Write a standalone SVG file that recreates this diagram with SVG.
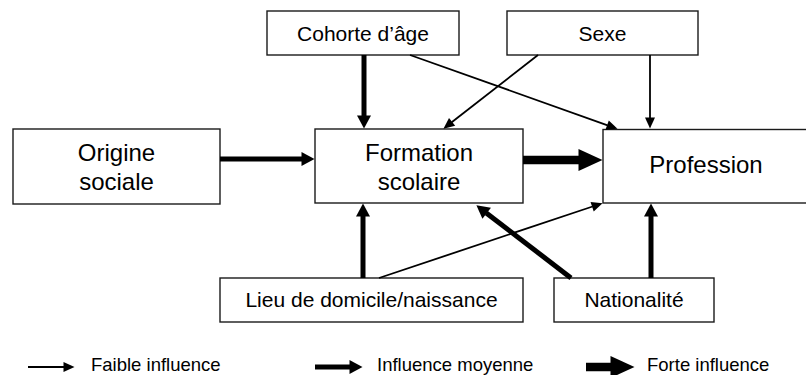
<svg xmlns="http://www.w3.org/2000/svg" width="806" height="375" viewBox="0 0 806 375">
<style>
  .box{fill:#fff;stroke:#1a1a1a;stroke-width:1.4}
  .t{font-family:"Liberation Sans",Arial,sans-serif;fill:#000;text-anchor:middle}
  .s{font-size:21px}
  .l{font-size:24px}
  .lg{font-family:"Liberation Sans",Arial,sans-serif;font-size:18.5px;fill:#000}
  .thin{stroke:#000;stroke-width:1.8;fill:none;marker-end:url(#hThin)}
  .med{stroke:#000;stroke-width:5;fill:none;marker-end:url(#hMed)}
  .thick{stroke:#000;stroke-width:8.5;fill:none;marker-end:url(#hThick)}
</style>
<defs>
  <marker id="hThin" markerUnits="userSpaceOnUse" markerWidth="11" markerHeight="10" refX="0.5" refY="5" orient="auto" overflow="visible"><path d="M0,0 L11,5 L0,10 Z" fill="#000"/></marker>
  <marker id="hMed" markerUnits="userSpaceOnUse" markerWidth="13" markerHeight="14" refX="0.5" refY="7" orient="auto" overflow="visible"><path d="M0,0 L13,7 L0,14 Z" fill="#000"/></marker>
  <marker id="hThick" markerUnits="userSpaceOnUse" markerWidth="24" markerHeight="22" refX="0.5" refY="11" orient="auto" overflow="visible"><path d="M0,0 L24,11 L0,22 Z" fill="#000"/></marker>
</defs>
<rect width="806" height="375" fill="#fff"/>

<g id="cohorte">
  <rect class="box" x="267" y="11" width="192" height="44"/>
  <text class="t s" x="363" y="40.5">Cohorte d’âge</text>
</g>
<g id="sexe">
  <rect class="box" x="507" y="11" width="191" height="44"/>
  <text class="t s" x="602.5" y="40.5">Sexe</text>
</g>
<g id="origine">
  <rect class="box" x="13" y="129" width="207" height="75"/>
  <text class="t l" x="116.5" y="161">Origine</text>
  <text class="t l" x="116.5" y="190">sociale</text>
</g>
<g id="formation">
  <rect class="box" x="315" y="129" width="208" height="74"/>
  <text class="t l" x="419" y="161">Formation</text>
  <text class="t l" x="419" y="190">scolaire</text>
</g>
<g id="profession">
  <rect class="box" x="603" y="129.5" width="212" height="73.5"/>
  <text class="t l" x="706" y="172.5">Profession</text>
</g>
<g id="lieu">
  <rect class="box" x="220" y="278" width="303" height="44"/>
  <text class="t s" x="371.5" y="307">Lieu de domicile/naissance</text>
</g>
<g id="nationalite">
  <rect class="box" x="554" y="278" width="160" height="44"/>
  <text class="t s" x="634" y="307">Nationalité</text>
</g>

<g id="connectors">
  <line class="med" x1="364" y1="55" x2="364" y2="116"/>
  <line class="thin" x1="410" y1="55" x2="607.6" y2="125.3"/>
  <line class="thin" x1="538" y1="55" x2="451.7" y2="122.2"/>
  <line class="thin" x1="650" y1="55" x2="650" y2="118"/>
  <line class="med" x1="220" y1="159" x2="302" y2="159"/>
  <line class="thick" x1="523" y1="160" x2="579" y2="160"/>
  <line class="med" x1="363" y1="278" x2="363" y2="216"/>
  <line class="thin" x1="379" y1="278" x2="592.6" y2="206.5"/>
  <line class="med" x1="571" y1="278" x2="486.3" y2="212.9"/>
  <line class="med" x1="651" y1="278" x2="651" y2="216"/>
</g>

<g id="legend">
  <line class="thin" x1="28" y1="367" x2="64" y2="367"/>
  <text class="lg" x="91" y="371">Faible influence</text>
  <line class="med" x1="315" y1="367" x2="350" y2="367"/>
  <text class="lg" x="377" y="371">Influence moyenne</text>
  <line class="thick" x1="586" y1="367" x2="611" y2="367"/>
  <text class="lg" x="647" y="371">Forte influence</text>
</g>
</svg>
